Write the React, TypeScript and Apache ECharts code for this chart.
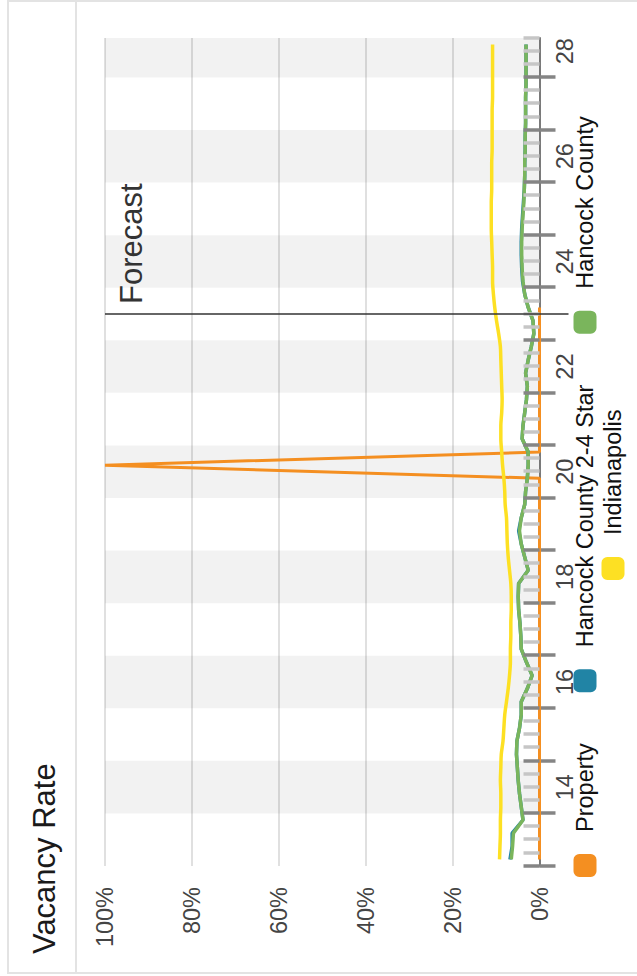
import React, { useEffect, useRef } from "react";
import * as echarts from "echarts";

const FONT = "'Liberation Sans', Arial, Helvetica, sans-serif";

// quarterly categories 2013 Q1 .. 2028 Q3
const quarterLabels: string[] = [];
for (let y = 2013; y <= 2028; y++) {
  for (let q = 1; q <= 4; q++) {
    if (y === 2028 && q === 4) continue;
    quarterLabels.push(`${y} Q${q}`);
  }
}

const yearTicks = [2013, 2014, 2015, 2016, 2017, 2018, 2019, 2020, 2021, 2022, 2023, 2024, 2025, 2026, 2027, 2028];
const labelYears = [2014, 2016, 2018, 2020, 2022, 2024, 2026, 2028];
const xMin = 2013;
const xMax = 2028.75;
const forecastStart = 2023.5;
const valueTicks = [0, 20, 40, 60, 80, 100];

const seriesNames = ["Property", "Hancock County 2-4 Star", "Hancock County", "Indianapolis"];

// Property (2013 Q1 .. 2023 Q3)
const property = [
  0, 0, 0, 0, 0, 0, 0, 0, 0, 0, 0, 0, 0, 0, 0, 0, 0, 0, 0, 0,
  0, 0, 0, 0, 0, 0, 0, 0, 0, 0, 100, 0, 0, 0, 0, 0, 0, 0, 0, 0,
  0, 0, 0,
];

const hancock24 = [
  6.8, 6.3, 6.3, 3.8, 4.2, 4.6, 4.9, 5.1, 5.3, 5.2, 4.6, 4.2,
  4.2, 2.8, 1.7, 3.0, 4.2, 4.3, 4.5, 4.8, 4.9, 4.8, 2.6, 3.4,
  4.2, 4.8, 4.2, 3.4, 3.2, 2.8, 2.6, 2.6, 4.0, 3.8, 3.4, 3.0,
  2.8, 3.2, 2.6, 1.9, 1.3, 1.5, 2.6, 3.4, 3.9, 4.1, 4.2, 4.2,
  4.1, 3.9, 3.7, 3.5, 3.4, 3.4, 3.3, 3.3, 3.2, 3.2, 3.2, 3.1,
  3.1, 3.1, 3.1,
];

const hancock = [
  6.5, 6.2, 6.0, 3.8, 4.2, 4.6, 4.9, 5.1, 5.3, 5.2, 4.6, 4.2,
  4.2, 2.8, 1.7, 3.0, 4.2, 4.3, 4.5, 4.8, 4.9, 4.8, 2.6, 3.4,
  4.2, 4.6, 4.2, 3.4, 3.2, 2.8, 2.6, 2.6, 4.0, 3.8, 3.4, 3.0,
  2.8, 3.2, 2.6, 1.9, 1.3, 1.5, 2.6, 3.4, 3.8, 4.0, 4.1, 4.1,
  4.0, 3.8, 3.6, 3.5, 3.4, 3.4, 3.3, 3.3, 3.2, 3.2, 3.2, 3.1,
  3.1, 3.1, 3.1,
];

const indianapolis = [
  9.2, 9.1, 9.0, 9.0, 8.9, 8.9, 9.0, 8.9, 8.8, 8.4, 8.2, 8.0,
  7.6, 7.2, 6.9, 6.7, 6.7, 6.6, 6.6, 6.5, 6.5, 6.6, 6.9, 7.2,
  7.4, 7.5, 7.6, 7.9, 8.0, 8.2, 8.5, 8.7, 8.9, 8.9, 8.7, 8.6,
  8.7, 8.8, 8.9, 9.0, 9.4, 9.9, 10.3, 10.6, 10.8, 10.8, 10.9, 11.0,
  11.1, 11.1, 11.1, 11.0, 11.0, 11.0, 10.9, 10.9, 10.9, 10.9, 10.8, 10.8,
  10.8, 10.8, 10.8,
];

const COLORS = {
  property: "#f48f21",
  hancock24: "#2184a5",
  hancock: "#7ab55c",
  indianapolis: "#fde023",
};

function quarterPos(label: string): number {
  const [y, q] = label.split(" Q");
  return Number(y) + (Number(q) - 0.5) / 4;
}

export default function App() {
  const ref = useRef<HTMLDivElement>(null);

  useEffect(() => {
    if (!ref.current) return;
    const chart = echarts.init(ref.current, null, { renderer: "svg", width: 976, height: 637 });

    const xPos = quarterLabels.map(quarterPos);
    const pair = (arr: number[]) => arr.map((v, i) => [xPos[i], v]);

    const minorTicks: number[] = [];
    for (let y = xMin; y < Math.ceil(xMax); y++) {
      for (let k = 1; k < 4; k++) {
        const t = y + k / 4;
        if (t <= xMax) minorTicks.push(t);
      }
    }

    const bands = labelYears.map((y) => [{ xAxis: y }, { xAxis: Math.min(y + 1, xMax) }]);

    const xBase: any = {
      type: "value",
      min: xMin,
      max: xMax,
      gridIndex: 0,
      position: "bottom",
      splitLine: { show: false },
    };

    const legendCommon: any = {
      orient: "horizontal",
      padding: 0,
      itemGap: 51,
      itemWidth: 23,
      itemHeight: 23,
      icon: "roundRect",
      selectedMode: false,
      textStyle: { fontSize: 23.5, color: "#111", fontFamily: FONT, padding: [0, 0, 0, 17] },
    };

    const lineSeries = (name: string, data: number[], color: string, width: number, smooth: any) => ({
      name,
      type: "line",
      xAxisIndex: 0,
      yAxisIndex: 0,
      data: pair(data),
      showSymbol: false,
      symbol: "none",
      smooth,
      lineStyle: { color, width },
      itemStyle: { color },
      z: 2,
    });

    chart.setOption({
      animation: false,
      textStyle: { fontFamily: FONT },
      grid: { left: 110, right: 38, top: 105, bottom: 97.5 },
      xAxis: [
        {
          ...xBase,
          axisLine: { show: true, onZero: false, lineStyle: { color: "#7a7a7a", width: 2 } },
          axisTick: {
            show: true,
            inside: false,
            length: 16,
            customValues: yearTicks,
            lineStyle: { color: "#858585", width: 3.5 },
          },
          axisLabel: {
            show: true,
            customValues: labelYears.map((y) => y + 0.5),
            formatter: (v: number) => String(Math.floor(v) % 100),
            margin: 13,
            fontSize: 23.5,
            color: "#444",
            fontFamily: FONT,
          },
        },
        {
          ...xBase,
          z: 3,
          axisLine: { show: false },
          axisLabel: { show: false },
          axisTick: {
            show: true,
            inside: true,
            length: 16,
            customValues: minorTicks,
            lineStyle: { color: "#c6c6c6", width: 3.5 },
          },
        },
        {
          ...xBase,
          z: 4,
          axisLine: { show: false },
          axisLabel: { show: false },
          axisTick: {
            show: true,
            inside: true,
            length: 16,
            customValues: yearTicks,
            lineStyle: { color: "#858585", width: 3.5 },
          },
        },
      ],
      yAxis: {
        type: "value",
        min: valueTicks[0],
        max: valueTicks[valueTicks.length - 1],
        interval: 20,
        axisLine: { show: false },
        axisTick: { show: false },
        axisLabel: { formatter: "{value}%", margin: 21, fontSize: 23.5, color: "#444", fontFamily: FONT },
        splitLine: { show: true, lineStyle: { color: "#d6d6d6", width: 1.5 } },
      },
      legend: [
        { ...legendCommon, data: seriesNames.slice(0, 3), left: 99, top: 573 },
        { ...legendCommon, data: seriesNames.slice(3), left: 396, top: 601 },
      ],
      series: [
        {
          type: "line",
          xAxisIndex: 0,
          yAxisIndex: 0,
          data: [],
          z: 1,
          silent: true,
          markArea: { silent: true, itemStyle: { color: "rgba(0,0,0,0.052)" }, data: bands },
        },
        lineSeries(seriesNames[0], property, COLORS.property, 3, false),
        lineSeries(seriesNames[1], hancock24, COLORS.hancock24, 3.5, false),
        lineSeries(seriesNames[2], hancock, COLORS.hancock, 3.5, false),
        lineSeries(seriesNames[3], indianapolis, COLORS.indianapolis, 3.5, 0.3),
      ],
    });

    const fx = chart.convertToPixel({ xAxisIndex: 0 }, forecastStart) as number;
    const yTop = chart.convertToPixel({ yAxisIndex: 0 }, valueTicks[valueTicks.length - 1]) as number;
    const yBottom = chart.convertToPixel({ yAxisIndex: 0 }, 0) as number;

    chart.setOption({
      graphic: [
        {
          type: "rect",
          shape: { x: 3, y: 8, width: 972, height: 700 },
          style: { fill: "none", stroke: "#e3e3e3", lineWidth: 2 },
          silent: true,
          z: 0,
        },
        {
          type: "line",
          shape: { x1: 3, y1: 76, x2: 975, y2: 76 },
          style: { stroke: "#e3e3e3", lineWidth: 2 },
          silent: true,
        },
        {
          type: "text",
          x: 22,
          y: 44,
          style: {
            text: "Vacancy Rate",
            fontSize: 31,
            fontFamily: FONT,
            fill: "#1a1a1a",
            align: "left",
            verticalAlign: "middle",
          },
        },
        {
          type: "line",
          shape: { x1: fx, y1: yTop, x2: fx, y2: yBottom + 29 },
          style: { stroke: "#333", lineWidth: 1.5 },
          z: 10,
          silent: true,
        },
        {
          type: "text",
          x: fx + 10,
          y: yTop + 26,
          z: 10,
          style: {
            text: "Forecast",
            fontSize: 31,
            fontFamily: FONT,
            fill: "#333",
            align: "left",
            verticalAlign: "middle",
          },
        },
      ],
    });

    return () => chart.dispose();
  }, []);

  return (
    <div
      style={{
        position: "absolute",
        left: 0,
        top: 0,
        width: 637,
        height: 976,
        overflow: "hidden",
        background: "#fff",
      }}
    >
      <div
        style={{
          position: "absolute",
          left: 0,
          top: 0,
          width: 976,
          height: 637,
          transformOrigin: "0 0",
          transform: "translateY(976px) rotate(-90deg)",
        }}
      >
        <div ref={ref} style={{ width: 976, height: 637 }} />
      </div>
    </div>
  );
}
